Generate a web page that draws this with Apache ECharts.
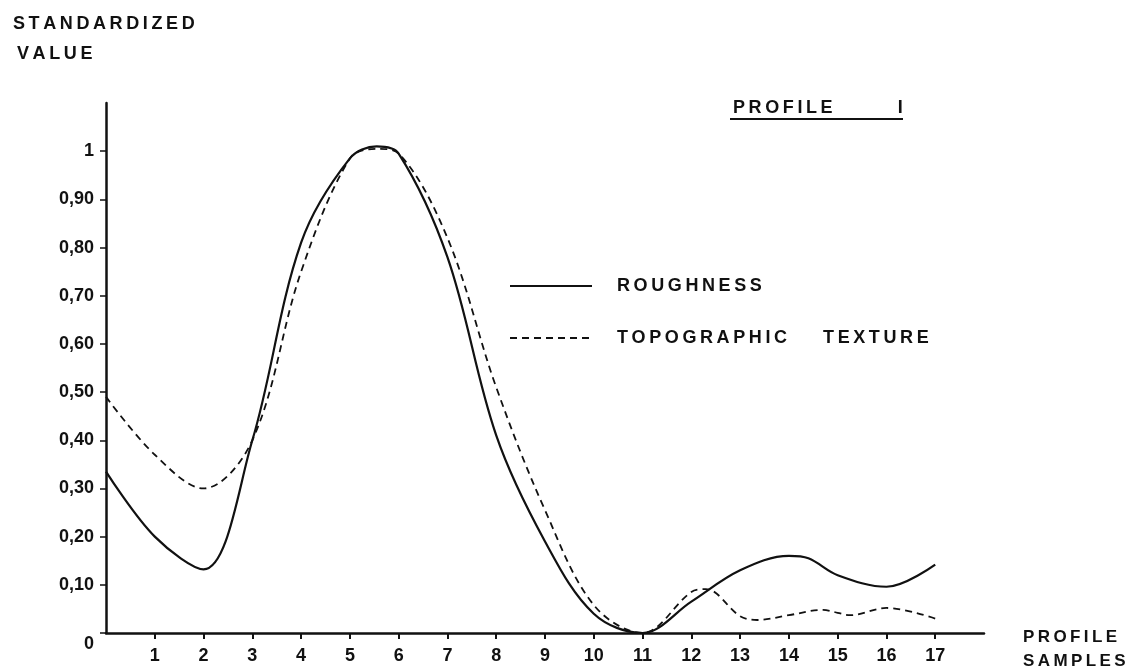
<!DOCTYPE html>
<html>
<head>
<meta charset="utf-8">
<script src="https://cdn.jsdelivr.net/npm/echarts@6/dist/echarts.min.js"></script>
<style>
  html, body { margin: 0; padding: 0; background: #fff; }
  #main { width: 1140px; height: 670px; }
</style>
</head>
<body>
<div id="main"></div>
<script>
// profile samples (x) and standardized values
var roughness = [
  [0, 0.335], [1, 0.2], [2, 0.132], [3, 0.40], [4, 0.81], [5, 0.985], [5.55, 1.01],
  [6, 0.995], [7, 0.78], [8, 0.41], [9, 0.19], [10, 0.04], [11, 0], [12, 0.065],
  [13, 0.13], [14, 0.16], [14.4, 0.155], [15, 0.12], [16, 0.096], [17, 0.142]
]
var texture = [
  [0, 0.49], [1, 0.37], [2, 0.30], [3, 0.40], [4, 0.75], [5, 0.985], [5.55, 1.005],
  [6, 0.995], [7, 0.82], [8, 0.51], [9, 0.255], [10, 0.058], [11, 0], [12, 0.085],
  [12.3, 0.091], [13, 0.035], [13.35, 0.027], [14, 0.037], [14.7, 0.048], [15, 0.042],
  [15.25, 0.037], [16, 0.052], [17, 0.03]
]
var xTicks = [1, 2, 3, 4, 5, 6, 7, 8, 9, 10, 11, 12, 13, 14, 15, 16, 17]
var yTicks = [0, 0.1, 0.2, 0.3, 0.4, 0.5, 0.6, 0.7, 0.8, 0.9, 1]
var yTickLabels = ['0', '0,10', '0,20', '0,30', '0,40', '0,50', '0,60', '0,70', '0,80', '0,90', '1']

var FONT = 'Liberation Sans'
// the lettering in the figure is widely spaced
function spread (s) {
  return s.split('').join('\u2009')
}

var myChart = echarts.init(document.getElementById('main'))

var option = {
  backgroundColor: '#fff',
  animation: false,
  title: [
    {
      text: spread('STANDARDIZED'),
      left: 8, top: 10,
      textStyle: { fontFamily: FONT, fontSize: 18, fontWeight: 'bold', color: '#111' }
    },
    {
      text: spread('VALUE'),
      left: 12, top: 40,
      textStyle: { fontFamily: FONT, fontSize: 18, fontWeight: 'bold', color: '#111' }
    },
    {
      text: spread('PROFILE') + '             I',
      left: 728, top: 94,
      textStyle: { fontFamily: FONT, fontSize: 18, fontWeight: 'bold', color: '#111' }
    },
    {
      text: spread('PROFILE') + '\n' + spread('SAMPLES'),
      left: 1018, top: 620,
      textStyle: { fontFamily: FONT, fontSize: 17, fontWeight: 'bold', color: '#111', lineHeight: 24 }
    }
  ],
  graphic: [
    { type: 'line', shape: { x1: 730, y1: 119, x2: 903, y2: 119 }, style: { stroke: '#111', lineWidth: 2 } }
  ],
  legend: {
    orient: 'vertical',
    left: 504, top: 272,
    itemWidth: 82, itemHeight: 14, itemGap: 34,
    itemStyle: { opacity: 0 },
    textStyle: { fontFamily: FONT, fontSize: 18, fontWeight: 'bold', color: '#111', padding: [0, 0, 0, 20] },
    formatter: function (name) {
      return name === 'ROUGHNESS' ? spread('ROUGHNESS') : spread('TOPOGRAPHIC') + '\u2003\u2003' + spread('TEXTURE')
    },
    data: ['ROUGHNESS', 'TOPOGRAPHIC TEXTURE']
  },
  grid: { left: 106, right: 156, top: 103, bottom: 37, containLabel: false },
  xAxis: {
    type: 'value',
    min: 0, max: 18,
    axisLine: { lineStyle: { color: '#111', width: 2.5 } },
    axisTick: { customValues: xTicks, length: 6, lineStyle: { color: '#111', width: 2 } },
    axisLabel: {
      customValues: xTicks, margin: 14,
      fontFamily: FONT, fontSize: 18, fontWeight: 'bold', color: '#111'
    },
    splitLine: { show: false }
  },
  yAxis: {
    type: 'value',
    min: 0, max: 1.1,
    axisLine: { show: true, lineStyle: { color: '#111', width: 2.5 } },
    axisTick: { show: true, customValues: yTicks, length: 6, lineStyle: { color: '#111', width: 1.5 } },
    axisLabel: {
      customValues: yTicks, margin: 12,
      fontFamily: FONT, fontSize: 18, fontWeight: 'bold', color: '#111',
      formatter: function (v) {
        var i = yTicks.indexOf(v)
        var txt = i >= 0 ? yTickLabels[i] : ''
        return v === 0 ? '{z|' + txt + '}' : txt
      },
      rich: {
        z: { fontFamily: FONT, fontSize: 18, fontWeight: 'bold', color: '#111', padding: [22, 0, 0, 0] }
      }
    },
    splitLine: { show: false }
  },
  series: [
    {
      name: 'ROUGHNESS',
      type: 'line',
      data: roughness,
      smooth: 0.35,
      symbol: 'none',
      color: '#111',
      lineStyle: { color: '#111', width: 2.2, type: 'solid' }
    },
    {
      name: 'TOPOGRAPHIC TEXTURE',
      type: 'line',
      data: texture,
      smooth: 0.35,
      symbol: 'none',
      color: '#111',
      lineStyle: { color: '#111', width: 1.8, type: [7, 5] }
    }
  ]
}
myChart.setOption(option)
</script>
</body>
</html>
